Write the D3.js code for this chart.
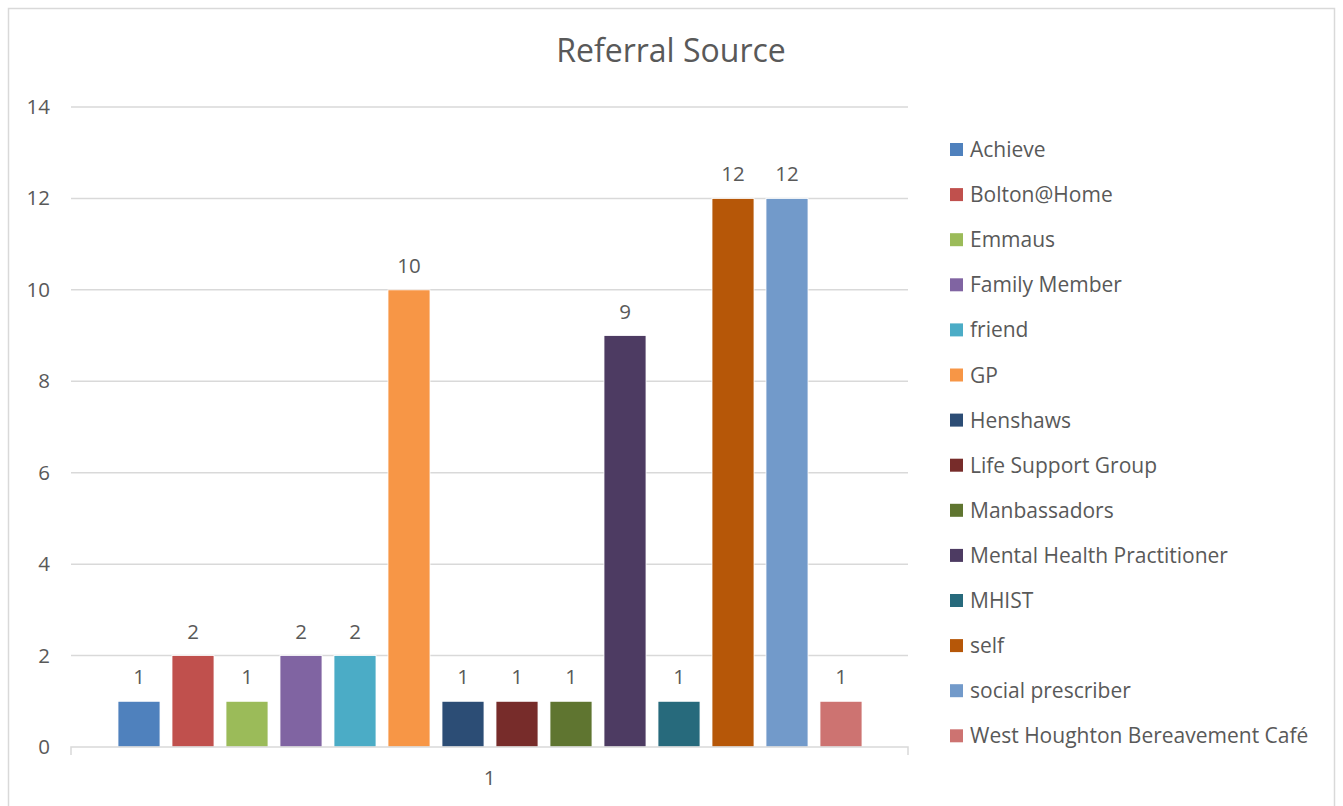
<!DOCTYPE html>
<html>
<head>
<meta charset="utf-8">
<script src="https://cdn.jsdelivr.net/npm/d3@7"></script>
<style>
  body { margin: 0; background: #fff; }
  svg text { font-family: "Open Sans", Lato, sans-serif; fill: #595959; }
</style>
</head>
<body>
<div id="chart"></div>
<script>
var categories = ["Achieve", "Bolton@Home", "Emmaus", "Family Member", "friend", "GP", "Henshaws",
  "Life Support Group", "Manbassadors", "Mental Health Practitioner", "MHIST", "self",
  "social prescriber", "West Houghton Bereavement Café"],
  values = [1, 2, 1, 2, 2, 10, 1, 1, 1, 9, 1, 12, 12, 1],
  colors = ["#4f81bd", "#c0504d", "#9bbb59", "#8064a2", "#4bacc6", "#f79646", "#2c4d75",
    "#772c2a", "#5f7530", "#4d3b62", "#276a7c", "#b65708", "#729aca", "#cd7371"],
  yTicks = [0, 2, 4, 6, 8, 10, 12, 14],
  groupLabel = "1",
  title = "Referral Source";

var W = 1343, H = 806,
  plot = { left: 71, right: 908, top: 107, bottom: 747 };

var svg = d3.select("#chart").append("svg")
  .attr("width", W)
  .attr("height", H);

// chart frame
svg.append("rect")
  .attr("x", 8.5).attr("y", 8.5)
  .attr("width", 1326).attr("height", 810)
  .attr("fill", "#fff")
  .attr("stroke", "#d9d9d9")
  .attr("stroke-width", 1.5);

svg.append("text")
  .attr("x", 671).attr("y", 62)
  .attr("text-anchor", "middle")
  .style("font-size", "32px")
  .text(title);

var y = d3.scaleLinear().domain([0, 14]).range([plot.bottom, plot.top]);

var x = d3.scaleBand()
  .domain(categories)
  .range([112, 868])
  .paddingInner(0.222)
  .paddingOuter(0.111);

// gridlines
svg.append("g").selectAll("line")
  .data(yTicks.filter(function (d) { return d > 0; }))
  .enter().append("line")
  .attr("x1", plot.left).attr("x2", plot.right)
  .attr("y1", function (d) { return y(d); })
  .attr("y2", function (d) { return y(d); })
  .attr("stroke", "#d9d9d9")
  .attr("stroke-width", 1.5);

// y tick labels
svg.append("g").selectAll("text")
  .data(yTicks)
  .enter().append("text")
  .attr("x", 50)
  .attr("y", function (d) { return y(d) + 7; })
  .attr("text-anchor", "end")
  .style("font-size", "20.5px")
  .text(function (d) { return d; });

// bars
svg.append("g").selectAll("rect")
  .data(values)
  .enter().append("rect")
  .attr("x", function (d, i) { return x(categories[i]); })
  .attr("y", function (d) { return y(d); })
  .attr("width", x.bandwidth())
  .attr("height", function (d) { return y(0) - y(d); })
  .attr("fill", function (d, i) { return colors[i]; })
  .attr("stroke", "#fff")
  .attr("stroke-width", 0.8);

// data labels
svg.append("g").selectAll("text")
  .data(values)
  .enter().append("text")
  .attr("x", function (d, i) { return x(categories[i]) + x.bandwidth() / 2; })
  .attr("y", function (d) { return y(d) - 17; })
  .attr("text-anchor", "middle")
  .style("font-size", "20.5px")
  .text(function (d) { return d; });

// x axis line with end ticks
svg.append("path")
  .attr("d", "M" + plot.left + "," + (plot.bottom + 8) + "V" + plot.bottom + "H" + plot.right + "V" + (plot.bottom + 8))
  .attr("fill", "none")
  .attr("stroke", "#d9d9d9")
  .attr("stroke-width", 1.5);

svg.append("text")
  .attr("x", (plot.left + plot.right) / 2)
  .attr("y", 785)
  .attr("text-anchor", "middle")
  .style("font-size", "20.5px")
  .text(groupLabel);

// legend
var legend = svg.append("g").selectAll("g")
  .data(categories)
  .enter().append("g")
  .attr("transform", function (d, i) { return "translate(950," + (150 + i * 45.1) + ")"; });

legend.append("rect")
  .attr("x", 0).attr("y", -7)
  .attr("width", 13).attr("height", 13)
  .attr("fill", function (d, i) { return colors[i]; });

legend.append("text")
  .attr("x", 20).attr("y", 7)
  .style("font-size", "21px")
  .text(function (d) { return d; });
</script>
</body>
</html>
